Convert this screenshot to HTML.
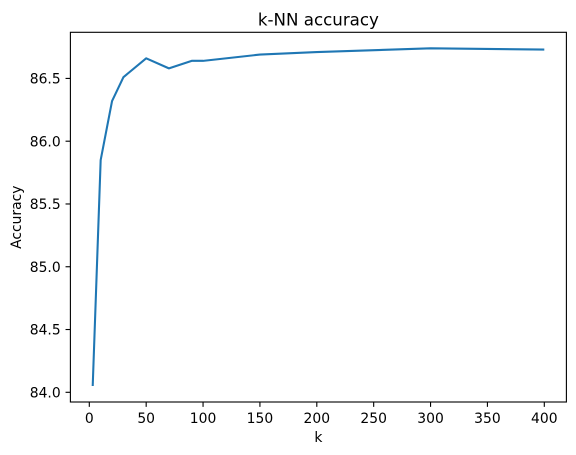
<!DOCTYPE html>
<html>
<head>
<meta charset="utf-8">
<style>
html,body{margin:0;padding:0;background:#fff;width:576px;height:455px;overflow:hidden}
svg{display:block}
text{font-family:"DejaVu Sans","Liberation Sans",sans-serif;fill:#000}
</style>
</head>
<body>
<svg id="chart" xmlns="http://www.w3.org/2000/svg" width="576" height="455" viewBox="0 0 576 455">
<rect x="0" y="0" width="576" height="455" fill="#fff"></rect>
<text x="318.4" y="25.5" font-size="16.67" text-anchor="middle">k-NN accuracy</text>
<text x="318.4" y="442" font-size="13.89" text-anchor="middle">k</text>
<text transform="translate(21,217.2) rotate(-90)" font-size="13.89" text-anchor="middle">Accuracy</text>
</svg>
<script>
const kValues = [3, 10, 20, 30, 50, 70, 90, 100, 150, 200, 300, 400];
const accuracyValues = [84.05, 85.85, 86.32, 86.51, 86.66, 86.58, 86.64, 86.64, 86.69, 86.71, 86.74, 86.73];
const xTickValues = [0, 50, 100, 150, 200, 250, 300, 350, 400];
const yTickValues = [84.0, 84.5, 85.0, 85.5, 86.0, 86.5];

const NS = 'http://www.w3.org/2000/svg';
const svg = document.getElementById('chart');
const plot = {left: 70.4, right: 566.4, top: 32.3, bottom: 402};
function xScale(v) { return 89.3 + v * 1.1375; }
function yScale(v) { return 392.3 - (v - 84) * 125.55; }

const line = document.createElementNS(NS, 'polyline');


line.setAttribute('points', kValues.map((k, i) => xScale(k).toFixed(2) + ',' + yScale(accuracyValues[i]).toFixed(2)).join(' '));
line.setAttribute('fill', 'none');
line.setAttribute('stroke', '#1f77b4');
line.setAttribute('stroke-width', '2.08');
line.setAttribute('stroke-linejoin', 'round');
line.setAttribute('stroke-linecap', 'butt');
svg.appendChild(line);

const frame = document.createElementNS(NS, 'rect');


frame.setAttribute('x', plot.left);
frame.setAttribute('y', plot.top);
frame.setAttribute('width', plot.right - plot.left);
frame.setAttribute('height', plot.bottom - plot.top);
frame.setAttribute('fill', 'none');
frame.setAttribute('stroke', '#000');
frame.setAttribute('stroke-width', '1.11');
svg.appendChild(frame);

xTickValues.forEach(function (v) {
  const x = xScale(v);
  const tick = document.createElementNS(NS, 'line');
  
  
  tick.setAttribute('x1', x);
  tick.setAttribute('x2', x);
  tick.setAttribute('y1', plot.bottom);
  tick.setAttribute('y2', plot.bottom + 4.86);
  tick.setAttribute('stroke', '#000');
  tick.setAttribute('stroke-width', '1.11');
  svg.appendChild(tick);
  const label = document.createElementNS(NS, 'text');
  
  
  label.setAttribute('x', x);
  label.setAttribute('y', 423);
  label.setAttribute('font-size', '13.89');
  label.setAttribute('text-anchor', 'middle');
  label.textContent = String(v);
  svg.appendChild(label);
});

yTickValues.forEach(function (v) {
  const y = yScale(v);
  const tick = document.createElementNS(NS, 'line');
  
  
  tick.setAttribute('x1', plot.left - 4.86);
  tick.setAttribute('x2', plot.left);
  tick.setAttribute('y1', y);
  tick.setAttribute('y2', y);
  tick.setAttribute('stroke', '#000');
  tick.setAttribute('stroke-width', '1.11');
  svg.appendChild(tick);
  const label = document.createElementNS(NS, 'text');
  
  
  label.setAttribute('x', 60.7);
  label.setAttribute('y', y + 5.2);
  label.setAttribute('font-size', '13.89');
  label.setAttribute('text-anchor', 'end');
  label.textContent = v.toFixed(1);
  svg.appendChild(label);
});
</script>
</body>
</html>
